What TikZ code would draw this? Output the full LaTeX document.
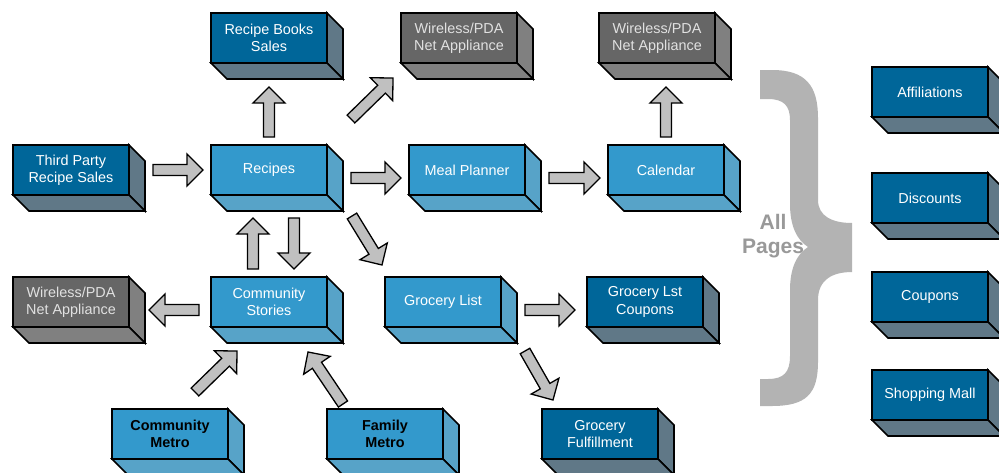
\documentclass[tikz,border=0pt]{standalone}
\usepackage{fontspec}
\setmainfont{Liberation Sans}
\usetikzlibrary{calc}
\definecolor{dkfront}{RGB}{0,102,153}
\definecolor{dkside}{RGB}{96,120,135}
\definecolor{ltfront}{RGB}{51,153,204}
\definecolor{ltside}{RGB}{87,163,200}
\definecolor{gyfront}{RGB}{102,102,102}
\definecolor{gyside}{RGB}{128,128,128}
\definecolor{gytext}{RGB}{225,225,225}
\definecolor{arrowgray}{RGB}{192,192,192}
\definecolor{bracegray}{RGB}{179,179,179}
\definecolor{pagesgray}{RGB}{153,153,153}

% fat grey arrow from #1 to #2
\newcommand{\blockarrow}[2]{%
  \path #1 coordinate (bat) #2 coordinate (bah);
  \pgfpointdiff{\pgfpointanchor{bat}{center}}{\pgfpointanchor{bah}{center}}%
  \pgfgetlastxy{\bdx}{\bdy}%
  \pgfmathsetmacro{\bang}{atan2(\bdy,\bdx)}%
  \pgfmathsetmacro{\blen}{veclen(\bdx,\bdy)}%
  \pgfmathsetmacro{\bneck}{\blen-16}%
  \draw[blockarr, shift={(bat)}, rotate=\bang] (0pt,5.5pt) -- (\bneck pt,5.5pt)
    -- (\bneck pt,16pt) -- (\blen pt,0pt) -- (\bneck pt,-16pt)
    -- (\bneck pt,-5.5pt) -- (0pt,-5.5pt) -- cycle;
}

\begin{document}
\begin{tikzpicture}[x=1pt,y=-1pt,
  box/.style={draw, line width=1.6pt, minimum width=116pt, minimum height=50pt,
    inner sep=0pt, outer sep=0pt, align=center,
    font=\fontsize{14.4}{17.3}\selectfont},
  dkbox/.style={box, fill=dkfront, text=white},
  ltbox/.style={box, fill=ltfront, text=white},
  gybox/.style={box, fill=gyfront, text=gytext},
  blockarr/.style={draw=black, fill=arrowgray, line width=1.3pt, line join=miter}]
\path[use as bounding box, fill=white] (0,0) rectangle (999,472);

% Boxes
\node[dkbox] (books) at (269,38) {Recipe Books\\Sales};
\node[gybox] (wl1) at (459,38) {Wireless/PDA\\Net Appliance};
\node[gybox] (wl2) at (657,38) {Wireless/PDA\\Net Appliance};
\node[dkbox] (tp) at (71,170) {Third Party\\Recipe Sales};
\node[ltbox] (rec) at (269,170) {Recipes};
\node[ltbox] (mp) at (467,170) {Meal Planner};
\node[ltbox] (cal) at (666,170) {Calendar};
\node[gybox] (wl3) at (71,302) {Wireless/PDA\\Net Appliance};
\node[ltbox] (cs) at (269,302) {Community\\Stories};
\node[ltbox] (gl) at (443,302) {Grocery List};
\node[dkbox] (glc) at (645,302) {Grocery Lst\\Coupons};
\node[ltbox, text=black, font=\fontsize{14.4}{17.3}\selectfont\bfseries] (cm) at (170,434) {Community\\Metro};
\node[ltbox, text=black, font=\fontsize{14.4}{17.3}\selectfont\bfseries] (fm) at (385,434) {Family\\Metro};
\node[dkbox] (gf) at (600,434) {Grocery\\Fulfillment};

% All pages column
\node[dkbox] (aff) at (930,92) {Affiliations};
\node[dkbox] (disc) at (930,198) {Discounts};
\node[dkbox] (coup) at (930,297) {Coupons};
\node[dkbox] (mall) at (930,395) {Shopping Mall};

% depth of the boxes
\foreach \b/\c in {books/dkside, wl1/gyside, wl2/gyside, tp/dkside, rec/ltside,
    mp/ltside, cal/ltside, wl3/gyside, cs/ltside, gl/ltside, glc/dkside,
    cm/ltside, fm/ltside, gf/dkside, aff/dkside, disc/dkside, coup/dkside, mall/dkside} {
  \filldraw[fill=\c, line width=1.6pt] (\b.north east) -- ++(16,16)
    -- ($(\b.south east)+(16,16)$) -- (\b.south east) -- cycle;
  \filldraw[fill=\c, line width=1.6pt] (\b.south west) -- ++(16,16)
    -- ($(\b.south east)+(16,16)$) -- (\b.south east) -- cycle;
}

% Arrows
\blockarrow{($(tp.east)+(24,0)$)}{($(rec.west)+(-8,0)$)}
\blockarrow{($(rec.north)+(0,-8)$)}{($(books.south)+(0,24)$)}
\blockarrow{($(rec.north east)+(24,-26)$)}{($(wl1.south west)+(-8,15)$)}
\blockarrow{($(rec.east)+(24,8)$)}{($(mp.west)+(-8,8)$)}
\blockarrow{($(mp.east)+(24,8)$)}{($(cal.west)+(-8,8)$)}
\blockarrow{($(cal.north)+(0,-8)$)}{($(cal.north|-wl2.south)+(0,24)$)}
\blockarrow{($(cs.north)+(-16,-8)$)}{($(rec.south)+(-16,23)$)}
\blockarrow{($(rec.south)+(25,23)$)}{($(cs.north)+(25,-8)$)}
\blockarrow{($(rec.south east)+(25,21)$)}{($(gl.north west)+(-3,-12)$)}
\blockarrow{($(cs.west)+(-12,8)$)}{($(wl3.east)+(20,8)$)}
\blockarrow{($(cm.north)+(25,-17)$)}{($(cs.south west)+(26,24)$)}
\blockarrow{($(fm.north)+(-42,-5)$)}{($(cs.south east)+(-19,25)$)}
\blockarrow{($(gl.east)+(24,8)$)}{($(glc.west)+(-12,8)$)}
\blockarrow{($(gl.south east)+(24,24)$)}{($(gf.north)+(-47,-9)$)}

% Brace
\fill[bracegray] (760,70) -- (772,70) .. controls (806,70) and (818,86) .. (818,118)
  -- (818,200) .. controls (818,216) and (832,223) .. (852,223) -- (852,272)
  .. controls (832,272) and (818,280) .. (818,300) -- (818,362)
  .. controls (818,394) and (806,406) .. (772,406) -- (760,406) -- (760,379)
  -- (768,379) .. controls (784,379) and (790,372) .. (790,356) -- (790,290)
  .. controls (790,268) and (797,254) .. (808,247)
  .. controls (797,240) and (790,226) .. (790,204) -- (790,120)
  .. controls (790,106) and (784,99) .. (768,99) -- (760,99) -- cycle;
\node[text=pagesgray, align=center, font=\fontsize{21}{24}\selectfont\bfseries] (allpages) at (773,236) {All\\Pages};
\end{tikzpicture}
\end{document}
